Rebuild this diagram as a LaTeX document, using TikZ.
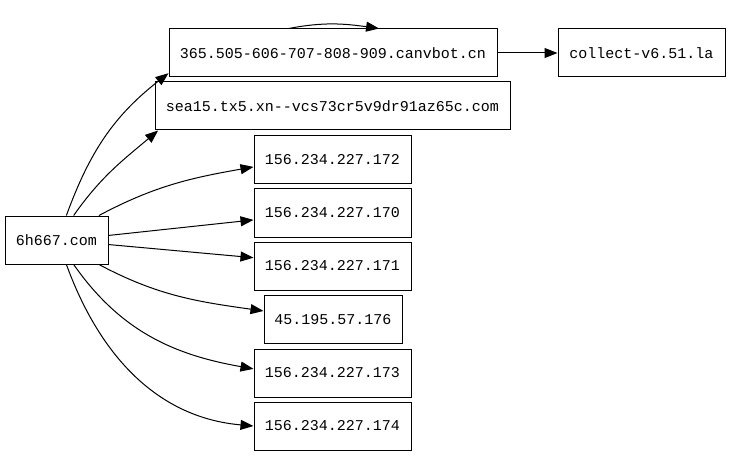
\documentclass[tikz,border=0pt]{standalone}
\usepackage{fontspec}
\setmonofont{Liberation Mono}
\usetikzlibrary{arrows.meta}
\tikzset{
  hostbox/.style={draw, line width=1pt, inner sep=0pt, minimum height=48pt,
    font=\ttfamily\fontsize{15pt}{18pt}\selectfont},
  link/.style={line width=1pt, -{Triangle[length=13pt,width=10pt]}}
}
\begin{document}
\begin{tikzpicture}[x=1pt, y=1pt]
\useasboundingbox (0,0) rectangle (731,456);
% draw the domain nodes
\node[hostbox, minimum width=103pt] (root) at (56.5,216) {6h667.com};
\node[hostbox, minimum width=328pt] (canvbot) at (333,403) {365.505-606-707-808-909.canvbot.cn};
\node[hostbox, minimum width=167pt] (collect) at (641.5,403) {collect-v6.51.la};
\node[hostbox, minimum width=355pt] (sea) at (332.5,350) {sea15.tx5.xn--vcs73cr5v9dr91az65c.com};
% draw the address nodes
\node[hostbox, minimum width=157pt] (ipa) at (332.5,296) {156.234.227.172};
\node[hostbox, minimum width=157pt] (ipb) at (332.5,243) {156.234.227.170};
\node[hostbox, minimum width=157pt] (ipc) at (332.5,190) {156.234.227.171};
\node[hostbox, minimum width=138pt] (ipd) at (333,136.5) {45.195.57.176};
\node[hostbox, minimum width=157pt] (ipe) at (332.5,83) {156.234.227.173};
\node[hostbox, minimum width=157pt] (ipf) at (332.5,30) {156.234.227.174};

% draw edges from the root
\draw[link] (root.68.4) to[out=70, in=218] (canvbot.187);
\draw[link] (root.55.5) to[out=55, in=220] (sea.188.25);
\draw[link] (root.30) to[out=28, in=190] (ipa.185.8);
\draw[link] (root.5.5) -- (ipb.185.8);
\draw[link] (root.-5.5) -- (ipc.174.9);
\draw[link] (root.-30) to[out=-28, in=172] (ipd.173.8);
\draw[link] (root.-55.5) to[out=-55, in=170] (ipe.177.8);
\draw[link] (root.-68.4) to[out=-70, in=175] (ipf.180);

% draw the loop and the last edge
\draw[link] (canvbot.151.9) to[out=11, in=172] (canvbot.28.1);
\draw[link] (canvbot) -- (collect);
\end{tikzpicture}
\end{document}
